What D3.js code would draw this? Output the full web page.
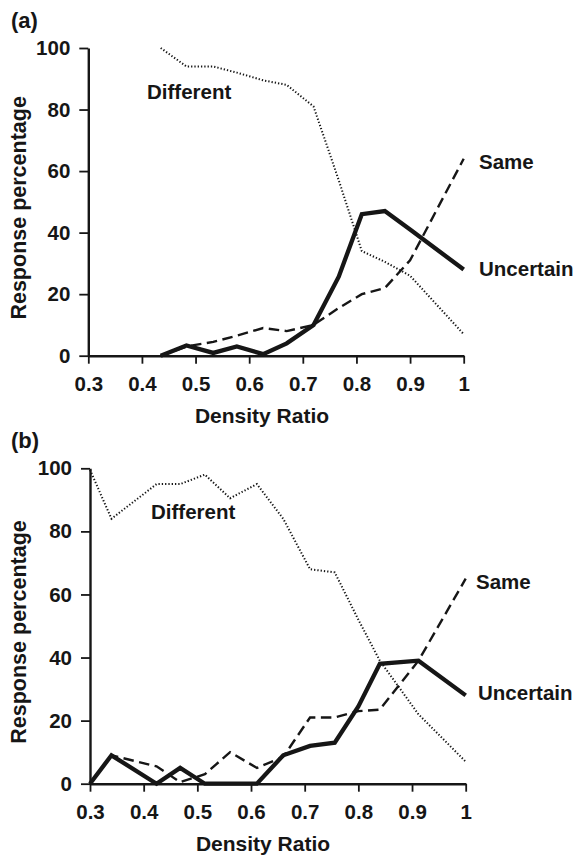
<!DOCTYPE html>
<html>
<head>
<meta charset="utf-8">
<script src="https://cdn.jsdelivr.net/npm/d3@7"></script>
<style>
  html, body { margin: 0; padding: 0; background: #fff; }
  svg { display: block; }
  text { font-family: "Liberation Sans", Arial, Helvetica, sans-serif; font-weight: bold; fill: #161616; }
</style>
</head>
<body>
<svg id="chart" width="576" height="857"></svg>
<script>
// ---- Data: response percentages by density ratio ----
// Panel (a)
const ratioA      = [0.435, 0.483, 0.533, 0.577, 0.626, 0.67, 0.72, 0.767, 0.81, 0.853, 0.9, 1.0];
const differentA  = [100,   94,    94,    92,    89.5,  88,   81,   57,    34,   30.5,  26,  7];
const sameA       = [0,     3,     4.5,   6.5,   9,     8,    10,   15.5,  20,   22,    31,  64];
const uncertainA  = [0,     3.3,   0.9,   3,     0.5,   4,    10,   25.7,  46,   47,    41,  28];

// Panel (b)
const ratioB      = [0.3,  0.34, 0.424, 0.468, 0.514, 0.561, 0.611, 0.66, 0.71, 0.756, 0.8,  0.84, 0.912, 1.0];
const differentB  = [99.5, 84,   95,    95,    98,    90.5,  95,    84,   68,   67,    52,   39,   22,    7];
const sameB       = [0,    9,    5.5,   0.5,   3,     10,    5,     8.5,  21,   21,    23,   23.5, 39,    65];
const uncertainB  = [0,    9,    0,     5,     0,     0,     0,     9,    12,   13,    24.5, 38,   39,    28];

// Axis ticks
const xTicks = [0.3, 0.4, 0.5, 0.6, 0.7, 0.8, 0.9, 1.0];
const yTicks = [0, 20, 40, 60, 80, 100];

const seriesNames = ["Different", "Same", "Uncertain"];

// ---- Layout and styles ----
const svg = d3.select("#chart");
const ink = "#161616";

const panels = [
  { tag: "(a)", x: ratioA, series: [differentA, sameA, uncertainA],
    xr: [88.3, 463.7], yr: [355.7, 48], tagPos: [11, 28], titleX: 262,
    labelPos: [[147, 99], [479, 169], [479, 276]] },
  { tag: "(b)", x: ratioB, series: [differentB, sameB, uncertainB],
    xr: [90, 465.7], yr: [783.7, 468.3], tagPos: [11, 448], titleX: 263,
    labelPos: [[151, 519], [476, 589], [478, 700]] }
];

const lineStyles = [
  { width: 2,   dash: "1.3,2", cap: "butt" },     // Different: dotted
  { width: 2.4, dash: "10.5,5.5", cap: "butt" },  // Same: dashed
  { width: 4.3, dash: null, cap: "butt" }         // Uncertain: solid heavy
];

panels.forEach(p => {
  const g = svg.append("g");
  const x = d3.scaleLinear().domain([0.3, 1]).range(p.xr);
  const y = d3.scaleLinear().domain([0, 100]).range(p.yr);

  // x axis
  const xAxis = d3.axisBottom(x)
    .tickValues(xTicks)
    .tickSizeInner(8).tickSizeOuter(0).tickPadding(13)
    .tickFormat(d => d === 1 ? "1" : d.toFixed(1));
  const gx = g.append("g").attr("transform", `translate(0,${p.yr[0]})`).call(xAxis);

  // y axis
  const yAxis = d3.axisLeft(y)
    .tickValues(yTicks)
    .tickSizeInner(9).tickSizeOuter(0).tickPadding(9);
  const gy = g.append("g").attr("transform", `translate(${p.xr[0]},0)`).call(yAxis);

  [gx, gy].forEach(a => {
    a.select(".domain").attr("stroke", ink).attr("stroke-width", 2.4);
    a.selectAll(".tick line").attr("stroke", ink).attr("stroke-width", 1.8);
    a.selectAll(".tick text")
      .attr("fill", ink)
      .style("font-size", "20.5px")
      .style("font-family", "'Liberation Sans', Arial, sans-serif")
      .style("font-weight", "bold");
  });

  // axis titles
  g.append("text")
    .attr("x", p.titleX).attr("y", p.yr[0] + 67)
    .attr("text-anchor", "middle")
    .style("font-size", "21px")
    .text("Density Ratio");

  g.append("text")
    .attr("transform", `translate(26,${(p.yr[0] + p.yr[1]) / 2 + 6}) rotate(-90)`)
    .attr("text-anchor", "middle")
    .style("font-size", "21.5px")
    .text("Response percentage");

  // panel tag
  g.append("text")
    .attr("x", p.tagPos[0]).attr("y", p.tagPos[1])
    .style("font-size", "22px")
    .text(p.tag);

  // series lines
  const line = d3.line()
    .x((d, i) => x(p.x[i]))
    .y(d => y(d));

  p.series.forEach((vals, k) => {
    const st = lineStyles[k];
    g.append("path")
      .datum(vals)
      .attr("d", line)
      .attr("fill", "none")
      .attr("stroke", ink)
      .attr("stroke-width", st.width)
      .attr("stroke-linejoin", "miter")
      .attr("stroke-linecap", st.cap)
      .attr("stroke-dasharray", st.dash);
  });

  // series labels
  seriesNames.forEach((name, k) => {
    g.append("text")
      .attr("x", p.labelPos[k][0]).attr("y", p.labelPos[k][1])
      .style("font-size", "20.5px")
      .text(name);
  });
});
</script>
</body>
</html>
